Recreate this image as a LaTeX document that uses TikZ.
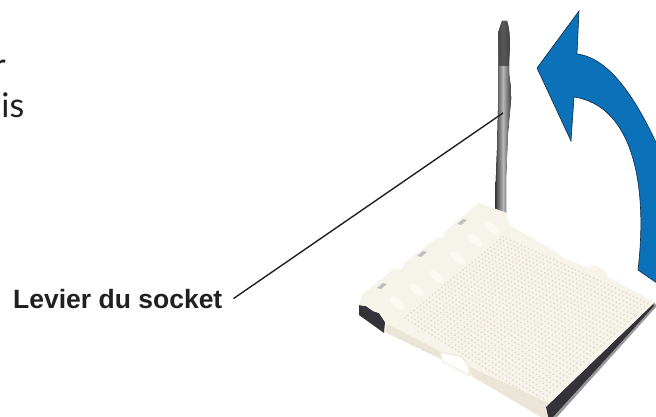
\documentclass[tikz,border=0pt]{standalone}
\usepackage{fontspec}
\setmainfont{Liberation Sans}
\newfontfamily\bodyfont{Lato}
\usepackage{xcolor}
\usetikzlibrary{
    positioning,
    calc
}
\definecolor{arrowblue}{HTML}{0B72B9}
\definecolor{arrowedge}{HTML}{0F2A44}
\definecolor{socketwhite}{HTML}{F6F3EA}
\definecolor{socketrim}{HTML}{EBE5D7}
\definecolor{pinhole}{HTML}{E0DACB}
\definecolor{socketdark}{HTML}{35333A}
\definecolor{inktext}{HTML}{231F20}

\begin{document}
\begin{tikzpicture}[
        x=1pt,
        y=-1pt,
        bodytext/.style={
            font=\bodyfont\fontsize{34}{40}\selectfont,
            text=inktext,
            inner sep=0pt,
            anchor=base east
        },
        labeltext/.style={
            font=\bfseries\fontsize{26.5}{30}\selectfont,
            text=inktext,
            inner sep=0pt,
            anchor=base west
        },
        leader/.style={
            draw=inktext,
            line width=1.4pt
        },
        bigarrow/.style={
            fill=arrowblue,
            draw=arrowedge,
            line width=0.6pt,
            line join=miter
        },
        marktab/.style={
            fill=black!25
        }
    ]

    \clip (0,0) rectangle (656,417);

    \node[bodytext] (lineone) at (6,78) {r};
    \node[bodytext] (linetwo) at (24.5,118) {is};
    \node[labeltext] (socketlabel) at (13,308) {Levier du socket};

    % lever
    \fill[left color=black!80, right color=black!75, middle color=black!28]
        (502,21) -- (507,21) .. controls (509,28) .. (510,43)
        .. controls (509,60) .. (509,73) .. controls (511,88) .. (511,100)
        -- (508,133) -- (506,180) -- (506,214) -- (495,214) -- (495,200)
        -- (497,150) -- (498,110) -- (498,77) -- (498,33) -- cycle;
    \fill[black!75, opacity=0.8]
        (502,21) -- (507,21) .. controls (509,28) .. (510,43)
        -- (509,66) -- (499,66) -- (498,33) -- cycle;

    % arrow
    \path[bigarrow]
        (579,11) -- (577,54) .. controls (610,58) and (640,100) .. (670,175)
        -- (670,292) -- (638,270)
        .. controls (648,185) and (633,106) .. (574,97)
        -- (571,141) -- (537,68) -- cycle;

    % socket sides
    \fill[black!40]
        (654,302) -- (656,305) -- (656,307) -- (557,417) -- (548,417) -- cycle;
    \fill[socketdark]
        (653,304) -- (654,306) -- (553,417) -- (548,417) -- (546,407) -- cycle;
    \fill[socketdark]
        (359,305) -- (366,306) -- (373,311) -- (379,313) -- (385,322)
        -- (384,333) -- (359,315) -- cycle;
    \fill[socketrim]
        (473,377) -- (545,407) -- (548,417) -- (541,417) -- cycle;

    % socket top
    \fill[socketwhite]
        (479,203) -- (507,213) .. controls (508,222) .. (513,227) -- (553,250)
        .. controls (563,258) .. (573,262) -- (590,268) -- (595,265)
        -- (607,272) -- (608,277) -- (655,302) -- (545,407) -- (473,377)
        -- (468,372) -- (443,360) -- (385,332) -- (385,322) -- (379,313)
        -- (373,311) -- (366,306) -- (359,305) -- (362,295) -- (392,270)
        -- (402,269) -- (405,262) -- (437,238) -- (443,238) -- (445,231)
        -- cycle;

    % pin field
    \foreach \i in {0,...,40} {
        \foreach \j in {0,...,32} {
            \pgfmathsetmacro{\s}{\i/40}
            \pgfmathsetmacro{\t}{\j/32}
            \fill[pinhole]
                ({405+135*\s+98*\t+10*\s*\t},{318+84*\s-81*\t-18*\s*\t}) circle (0.95);
        }
    }

    % front rim and tab
    \fill[socketrim]
        (385,332) -- (387,324) -- (440,351) -- (443,360) -- cycle;
    \fill[socketrim]
        (468,366) -- (548,403) -- (545,407) -- (473,377) -- cycle;
    \fill[white, draw=socketrim, line width=0.8pt]
        (440,352) -- (462,357) -- (468,365) -- (470,376) -- (442,361) -- cycle;
    \foreach \px/\py in {400/338,406/341,412/344,418/347,423/350,428/352} {
        \fill[black!25] (\px,\py) circle (0.7);
    }

    % clip marks along the back edge
    \foreach \mx/\my in {382/286,422/254,462/222} {
        \fill[marktab] (\mx-5,\my+2) -- (\mx+1,\my-3) -- (\mx+5,\my-2) -- (\mx-1,\my+3) -- cycle;
    }
    \foreach \bx/\by in {397/303,417/290,437/277,458/258,475/240,492/228} {
        \fill[white, opacity=0.5, rotate around={-40:(\bx,\by)}] (\bx,\by) ellipse (9 and 4);
    }

    \coordinate (levertouch) at (503,113);
    \draw[leader] ([xshift=11pt]socketlabel.east) -- (levertouch);

\end{tikzpicture}
\end{document}
